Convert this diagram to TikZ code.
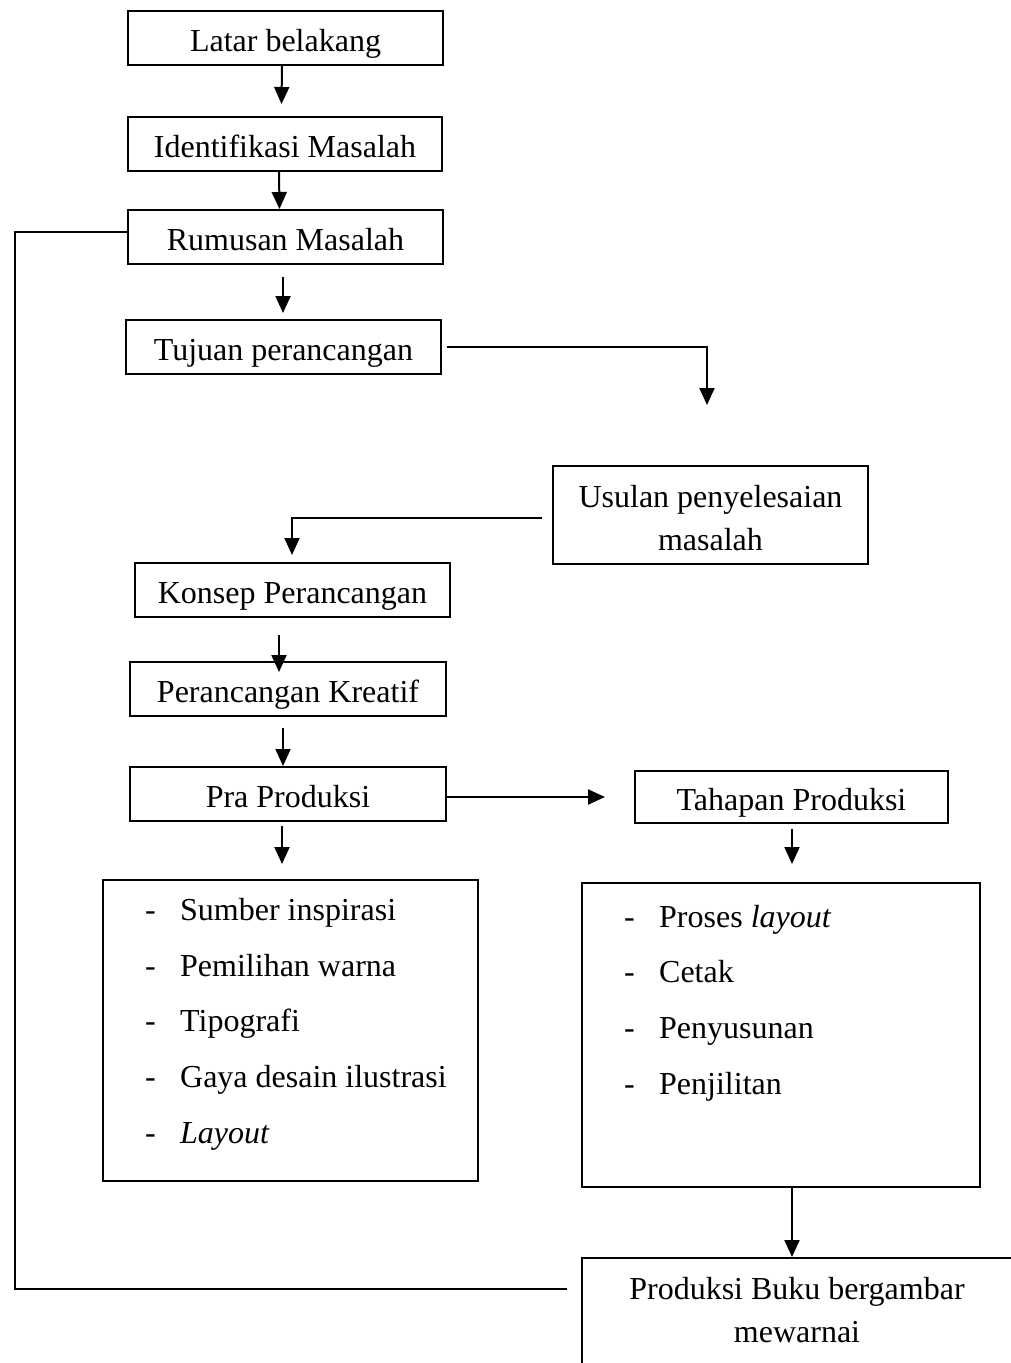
\documentclass[tikz,border=0pt]{standalone}
\usepackage{fontspec}
\setmainfont{Liberation Serif}
\usetikzlibrary{arrows.meta}
\begin{document}
\begin{tikzpicture}[x=1pt,y=-1pt,
  every node/.style={font=\fontsize{32}{43}\selectfont},
  box/.style={draw,line width=2pt,inner sep=0pt,align=center},
  one/.style={text height=26pt,text depth=0pt},
  item/.style={anchor=west,inner sep=0pt,text height=21pt,text depth=7pt},
  arr/.style={line width=2pt,-{Triangle[length=17pt,width=15pt]}},
  conn/.style={line width=2pt}]
\useasboundingbox (0,0) rectangle (1011,1363);
\clip (0,0) rectangle (1011,1363);
% boxes
\node[box,one,minimum width=315pt,minimum height=54pt] (lb) at (285.5,38) {Latar belakang};
\node[box,one,minimum width=314pt,minimum height=54pt] (im) at (285,144) {Identifikasi Masalah};
\node[box,one,minimum width=315pt,minimum height=54pt] (rm) at (285.5,237) {Rumusan Masalah};
\node[box,one,minimum width=315pt,minimum height=54pt] (tp) at (283.5,347) {Tujuan perancangan};
\node[box,minimum width=315pt,minimum height=98pt] (us) at (710.5,515) {};
\node[align=center,inner sep=0pt] (ust) at (710.5,518) {Usulan penyelesaian\\masalah};
\node[box,one,minimum width=315pt,minimum height=54pt] (ks) at (292.5,590) {Konsep Perancangan};
\node[box,one,minimum width=316pt,minimum height=54pt] (pk) at (288,689) {Perancangan Kreatif};
\node[box,one,minimum width=316pt,minimum height=54pt] (pp) at (288,794) {Pra Produksi};
\node[box,one,minimum width=313pt,minimum height=52pt] (th) at (791.5,797) {Tahapan Produksi};
\node[box,minimum width=375pt,minimum height=301pt] (lbox) at (290.5,1030.5) {};
\node[box,minimum width=398pt,minimum height=304pt] (rbox) at (781,1035) {};
\node[box,minimum width=440pt,minimum height=150pt] (pb) at (802,1333) {};
\node[align=center,inner sep=0pt] (pbt) at (797,1310) {Produksi Buku bergambar\\mewarnai};
% list items
\node[item] (l1) at (145,913) {\makebox[35pt][l]{-}Sumber inspirasi};
\node[item] (l2) at (145,969) {\makebox[35pt][l]{-}Pemilihan warna};
\node[item] (l3) at (145,1024) {\makebox[35pt][l]{-}Tipografi};
\node[item] (l4) at (145,1080) {\makebox[35pt][l]{-}Gaya desain ilustrasi};
\node[item] (l5) at (145,1136) {\makebox[35pt][l]{-}\textit{Layout}};
\node[item] (r1) at (624,920) {\makebox[35pt][l]{-}Proses \textit{layout}};
\node[item] (r2) at (624,975) {\makebox[35pt][l]{-}Cetak};
\node[item] (r3) at (624,1031) {\makebox[35pt][l]{-}Penyusunan};
\node[item] (r4) at (624,1087) {\makebox[35pt][l]{-}Penjilitan};
% free ends
\coordinate (c1) at (707,405);
\coordinate (c2) at (292,555);
\coordinate (lc) at (15,232);
% connectors
\draw[arr] ([xshift=-3.5pt]lb.south) -- ([xshift=-3.5pt,yshift=12pt]im.north);
\draw[arr] ([xshift=-6pt]im.south) -- ([xshift=-6pt]rm.north);
\draw[arr] ([xshift=-2.5pt,yshift=-12pt]rm.south) -- ([xshift=-0.5pt,yshift=6pt]tp.north);
\draw[arr] ([xshift=5pt]tp.east) -| (c1);
\draw[arr] ([xshift=-10pt,yshift=-3pt]us.west) -| (c2);
\draw[arr] ([xshift=-13.5pt,yshift=-17pt]ks.south) -- ([xshift=-9pt,yshift=-11pt]pk.north);
\draw[arr] ([xshift=-5pt,yshift=-11pt]pk.south) -- ([xshift=-5pt]pp.north);
\draw[arr] ([xshift=-6pt,yshift=-4pt]pp.south) -- ([xshift=-8.5pt,yshift=15pt]lbox.north);
\draw[arr] ([yshift=-3pt]pp.east) -- ([xshift=-29pt]th.west);
\draw[arr] ([xshift=0.5pt,yshift=-5pt]th.south) -- ([xshift=11pt,yshift=18pt]rbox.north);
\draw[arr] ([xshift=11pt]rbox.south) -- ([xshift=-10pt]pb.north);
\draw[conn] ([xshift=-14pt,yshift=44pt]pb.west) -| (lc) -- ([yshift=5pt]rm.west);
\end{tikzpicture}
\end{document}
